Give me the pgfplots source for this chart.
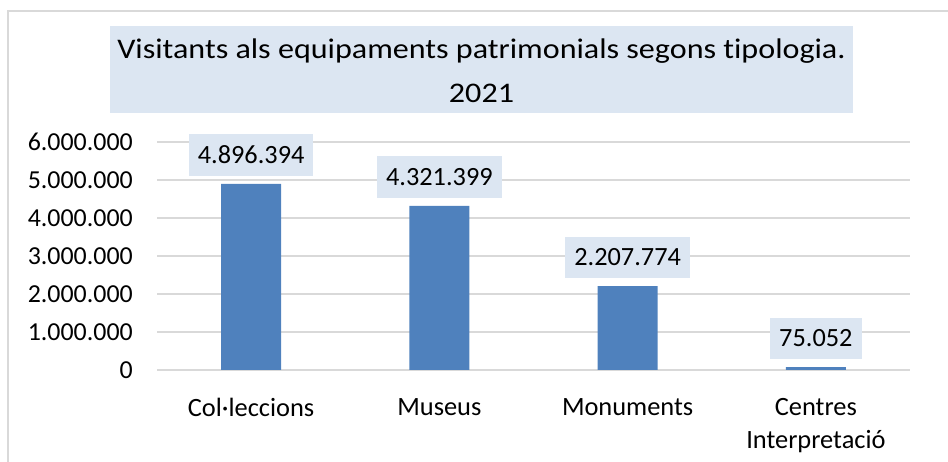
\documentclass[border=0pt]{standalone}
\usepackage{pgfplots}
\pgfplotsset{compat=1.18}
\usepackage{graphicx}
\usepackage{fontspec}
\setmainfont{Carlito}[Ligatures=NoCommon]
\definecolor{barblue}{HTML}{4F81BD}
\definecolor{boxblue}{HTML}{DCE6F2}
\definecolor{gridgray}{HTML}{D9D9D9}
\begin{document}
\begin{tikzpicture}[x=1bp,y=1bp]
\useasboundingbox (0,0) rectangle (948,462);
% chart frame (only top and left edges visible)
\draw[gridgray, line width=1.2bp] (8,0) -- (8,451) -- (948,451);
% title box
\fill[boxblue] (110,349) rectangle (853,436);
\node[anchor=base, inner sep=0pt, font=\fontsize{28.5}{34}\selectfont] at (481.5,403)
  {\scalebox{1.13}[1]{Visitants als equipaments patrimonials segons tipologia.}};
\node[anchor=base, inner sep=0pt, font=\fontsize{28.5}{34}\selectfont] at (481.5,359)
  {\scalebox{1.13}[1]{2021}};
\begin{axis}[
    at={(157bp,92bp)}, anchor=south west,
    scale only axis, width=753bp, height=228bp,
    xmin=-0.5, xmax=3.5, ymin=0, ymax=6000000,
    ybar, bar width=60bp,
    axis line style={draw=none},
    tick style={draw=none},
    ymajorgrids=true,
    grid style={gridgray, line width=1.5bp},
    xtick={0,1,2,3},
    xticklabels={Col·leccions, Museus, Monuments, {Centres\\Interpretació}},
    x tick label style={align=center, anchor=north, inner sep=0pt, yshift=-24bp,
                        font=\fontsize{26.5}{33}\selectfont},
    ytick={0,1000000,2000000,3000000,4000000,5000000,6000000},
    scaled y ticks=false,
    y tick label style={anchor=east, inner sep=0pt, xshift=-24bp,
                        font=\fontsize{26}{31}\selectfont},
    /pgf/number format/.cd, fixed, precision=0, 1000 sep={.}, assume math mode=true,
]
\addplot[fill=barblue, draw=none,
    nodes near coords,
    every node near coord/.append style={fill=boxblue, anchor=south, inner xsep=9bp,
        inner ysep=12bp, yshift=8bp, text=black, font=\fontsize{26.4}{31}\selectfont}]
  coordinates {(0,4896394) (1,4321399) (2,2207774) (3,75052)};
\end{axis}
\end{tikzpicture}
\end{document}
